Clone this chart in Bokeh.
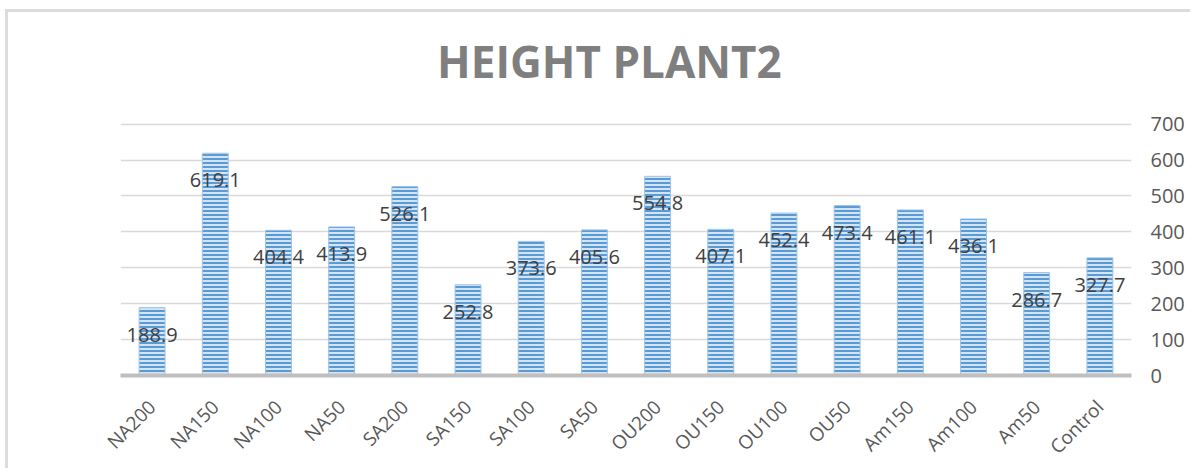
from bokeh.plotting import figure
from bokeh.models import ColumnDataSource, LinearAxis, FixedTicker, Range1d
from bokeh.core.properties import value
from bokeh.embed import file_html
from bokeh.resources import INLINE
import math

categories = ["NA200", "NA150", "NA100", "NA50", "SA200", "SA150", "SA100", "SA50",
              "OU200", "OU150", "OU100", "OU50", "Am150", "Am100", "Am50", "Control"]
heights = [188.9, 619.1, 404.4, 413.9, 526.1, 252.8, 373.6, 405.6,
           554.8, 407.1, 452.4, 473.4, 461.1, 436.1, 286.7, 327.7]
labels = [f"{v:.1f}" for v in heights]
y_ticks = [0, 100, 200, 300, 400, 500, 600, 700]
title_text = "HEIGHT PLANT2"

# layout: plot area spans 0..700 over 252px; the frame is extended upward to hold the title
px_per_unit = 252 / 700
y_top = 700 + 112 / px_per_unit
title_y = (376 - 61) / px_per_unit

src = ColumnDataSource(dict(cat=categories, h=heights, lab=labels))

p = figure(x_range=categories, y_range=Range1d(0, y_top), width=1185, height=459,
           output_backend="svg", toolbar_location=None, y_axis_location=None,
           min_border_left=112, min_border_right=62, min_border_top=0, min_border_bottom=80)

p.styles = {"border-top": "3px solid #dcdcdc", "border-left": "3px solid #dcdcdc",
            "margin-top": "9px", "margin-left": "5px"}

p.text(x=[categories[7]], y=[title_y], text=[title_text], x_offset=15,
       text_align="center", text_baseline="middle", text_font=value("Open Sans"),
       text_font_size="44px", text_font_style="bold", text_color="#7f7f7f")

p.vbar(x="cat", top="h", width=0.41, source=src,
       fill_color="#d3e4f5", line_color="#9dc3e6", line_width=1,
       hatch_pattern="-", hatch_color="#5b9bd5", hatch_scale=4, hatch_weight=2)

p.text(x="cat", y="h", text="lab", source=src, text_align="center",
       text_baseline="middle", y_offset=27, text_font=value("Open Sans"),
       text_font_size="20px", text_color="#404040")

yaxis = LinearAxis(ticker=FixedTicker(ticks=y_ticks))
yaxis.axis_line_color = None
yaxis.major_tick_line_color = None
yaxis.minor_tick_line_color = None
yaxis.major_label_text_font = "Open Sans"
yaxis.major_label_text_font_size = "20px"
yaxis.major_label_text_color = "#595959"
yaxis.major_label_standoff = 13
p.add_layout(yaxis, "right")

p.ygrid.ticker = FixedTicker(ticks=y_ticks)
p.ygrid.grid_line_color = "#d9d9d9"
p.ygrid.grid_line_width = 1.5
p.xgrid.grid_line_color = None

xa = p.xaxis[0]
xa.axis_line_color = "#bfbfbf"
xa.axis_line_width = 4
xa.major_tick_line_color = None
xa.minor_tick_line_color = None
xa.major_label_orientation = math.pi / 4
xa.major_label_text_font = "Open Sans"
xa.major_label_text_font_size = "19px"
xa.major_label_text_color = "#595959"
xa.major_label_standoff = 22

p.outline_line_color = None
p.x_range.range_padding = 0

open("out.html", "w").write(file_html(p, INLINE))
